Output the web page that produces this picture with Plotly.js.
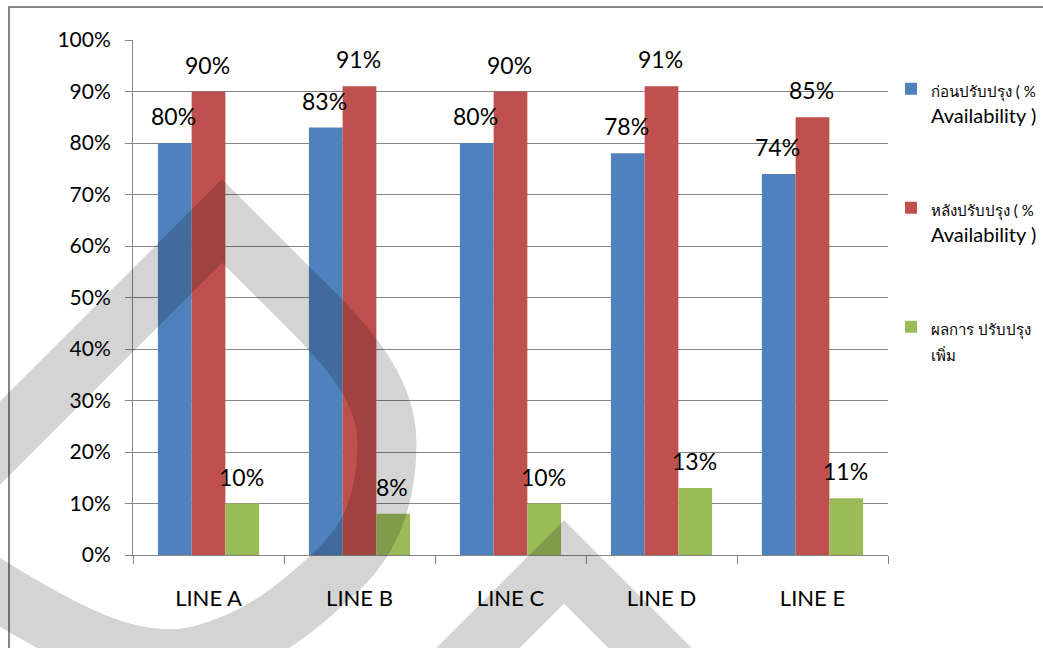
<!DOCTYPE html>
<html>
<head>
<meta charset="utf-8">
<script src="https://cdn.plot.ly/plotly-3.0.1.min.js"></script>
<style>
  html, body { margin: 0; padding: 0; background: #ffffff; }
  #chart { width: 1043px; height: 648px; }
</style>
</head>
<body>
<div id="chart"></div>
<script>
// ---- data ----
var categories = ["LINE A", "LINE B", "LINE C", "LINE D", "LINE E"];
var beforeValues = [0.80, 0.83, 0.80, 0.78, 0.74];
var afterValues = [0.90, 0.91, 0.90, 0.91, 0.85];
var gainValues = [0.10, 0.08, 0.10, 0.13, 0.11];
var seriesNames = [
  "<span style='font-size:15px'>ก่อนปรับปรุง ( %</span><br>Availability )",
  "<span style='font-size:15px'>หลังปรับปรุง ( %</span><br>Availability )",
  "<span style='font-size:15px'>ผลการ ปรับปรุง</span><br><span style='font-size:15px'>เพิ่ม</span>"
];
var seriesColors = ["#4F81BD", "#C0504D", "#9BBB59"];
var yTickValues = [0, 0.1, 0.2, 0.3, 0.4, 0.5, 0.6, 0.7, 0.8, 0.9, 1.0];

// ---- layout geometry ----
var W = 1043, H = 648;
var M = { l: 133, r: 155, t: 40, b: 93 };
var plotW = W - M.l - M.r, plotH = H - M.t - M.b;
var bargap = 0.33;
var FONT = 'Lato, "Noto Sans", sans-serif';

var allSeries = [beforeValues, afterValues, gainValues];
var traces = allSeries.map(function (vals, i) {
  return {
    type: "bar",
    x: categories,
    y: vals,
    name: seriesNames[i],
    legendgroup: "g" + i,
    marker: { color: seriesColors[i], line: { width: 0 } },
    hoverinfo: "x+y"
  };
});

// data labels above each bar
var barPx = plotW / categories.length * (1 - bargap) / allSeries.length;
var annotations = [];
allSeries.forEach(function (vals, s) {
  vals.forEach(function (v, c) {
    annotations.push({
      x: categories[c], y: v, xref: "x", yref: "y",
      text: Math.round(v * 100) + "%",
      showarrow: false,
      xshift: (s - (allSeries.length - 1) / 2) * barPx - 1,
      yshift: 27,
      font: { family: FONT, size: 23, color: "#000000" }
    });
  });
});

// pixel -> paper helper for decorative shapes
function P(px, py) {
  return ((px - M.l) / plotW).toFixed(4) + "," + ((H - M.b - py) / plotH).toFixed(4);
}
var dropPath = "M" + P(-220, 663) + " L" + P(222, 221) + " L" + P(300, 299) +
  " C" + P(340, 339) + " " + P(387, 385) + " " + P(387, 443) +
  " C" + P(387, 500) + " " + P(370, 540) + " " + P(338, 570) +
  " C" + P(300, 606) + " " + P(260, 640) + " " + P(200, 655) +
  " C" + P(130, 672) + " " + P(60, 630) + " " + P(-40, 568);
var chevronPath = "M" + P(400, 726) + " L" + P(564, 562) + " L" + P(740, 738);
var frameShape = "M" + P(9, 700) + " L" + P(9, 7) + " L" + P(1100, 7);

var wm = { color: "rgba(0,0,0,0.17)", width: 59 };
var shapes = [
  { type: "path", xref: "paper", yref: "paper", path: frameShape, layer: "below",
    line: { color: "#868686", width: 2 } },
  { type: "path", xref: "paper", yref: "paper", path: dropPath, layer: "above", line: wm },
  { type: "path", xref: "paper", yref: "paper", path: chevronPath, layer: "above", line: wm }
];

var layout = {
  width: W, height: H,
  margin: { l: M.l, r: M.r, t: M.t, b: M.b, pad: 0, autoexpand: false },
  paper_bgcolor: "#ffffff", plot_bgcolor: "#ffffff",
  font: { family: FONT, color: "#000000" },
  barmode: "group", bargap: bargap, bargroupgap: 0,
  showlegend: true,
  legend: {
    x: 1.004, y: 0.943, xanchor: "left", yanchor: "top",
    font: { family: FONT, size: 20, color: "#000000" },
    tracegroupgap: 64, valign: "top", bgcolor: "rgba(0,0,0,0)",
    traceorder: "grouped", itemclick: false
  },
  xaxis: {
    type: "category", tickson: "boundaries", ticks: "outside", ticklen: 8,
    tickcolor: "#868686", tickwidth: 1, showline: true, linecolor: "#868686", linewidth: 1,
    showgrid: false, zeroline: false, ticklabelstandoff: 24,
    tickfont: { family: FONT, size: 22, color: "#000000" }
  },
  yaxis: {
    range: [0, 1], tickvals: yTickValues, tickformat: ".0%",
    ticks: "outside", ticklen: 7, tickcolor: "#868686", tickwidth: 1,
    showline: true, linecolor: "#868686", linewidth: 1,
    showgrid: true, gridcolor: "#868686", gridwidth: 1, zeroline: false,
    ticklabelstandoff: 10,
    tickfont: { family: FONT, size: 21, color: "#000000" }
  },
  annotations: annotations,
  shapes: shapes
};

Plotly.newPlot("chart", traces, layout, { displayModeBar: false, staticPlot: true });
</script>
</body>
</html>
